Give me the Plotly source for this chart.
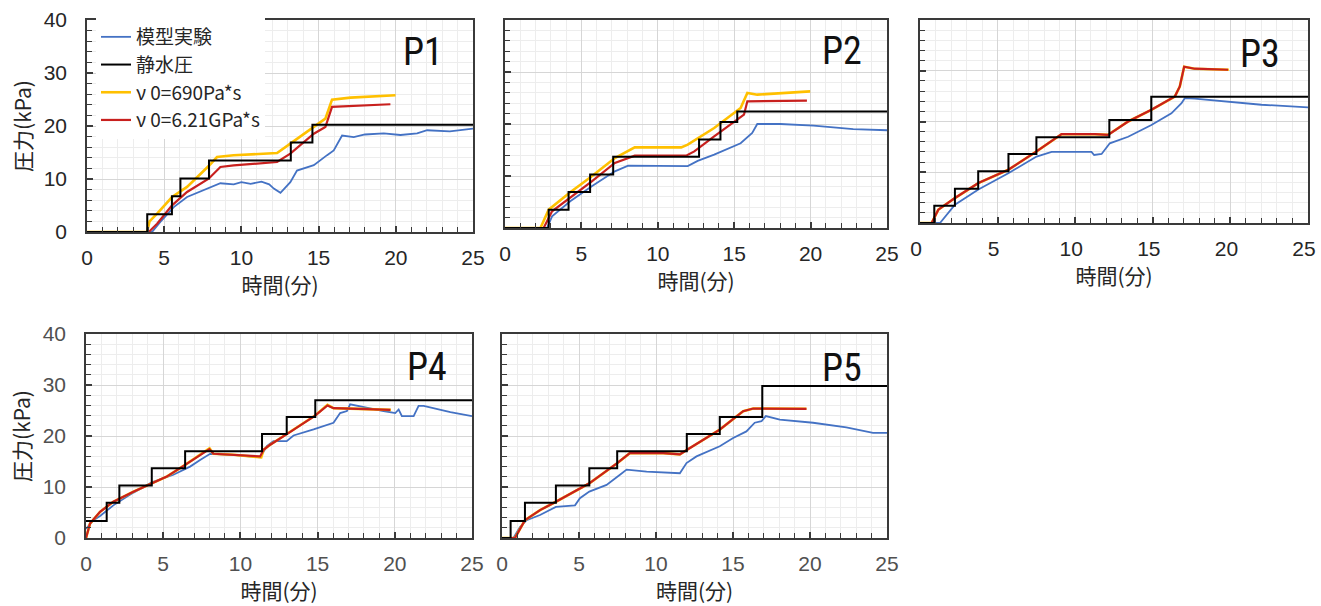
import plotly.graph_objects as go

W, H = 1321, 606

# ---------------- data (time in minutes, pressure in kPa) ----------------
P1_EXP_T = [0, 4.21, 4.75, 5.62, 6.48, 7.78, 8.64, 9.5, 10.0, 10.6, 11.3, 11.8, 12.1, 12.53, 13.17, 13.6, 14.69, 15.55, 15.98, 16.52, 17.28, 18.0, 19.22, 20.3, 21.38, 22.03, 23.5, 25.0]
P1_EXP_P = [0, 0, 1.9, 4.7, 6.6, 8.2, 9.2, 9.0, 9.4, 9.1, 9.5, 9.0, 8.2, 7.4, 9.4, 11.6, 12.6, 14.5, 15.4, 18.2, 17.9, 18.4, 18.6, 18.3, 18.6, 19.2, 19.0, 19.5]
P1_HYD_T = [0, 3.9, 5.5, 6.05, 7.9, 13.2, 14.6, 25]
P1_HYD_P = [0, 3.37, 6.75, 10.1, 13.5, 16.9, 20.25, 20.25]
P1_V690_T = [0, 3.89, 4.05, 4.54, 5.51, 6.48, 7.88, 8.42, 9.5, 12.31, 13.17, 14.69, 15.44, 15.87, 17.06, 19.98]
P1_V690_P = [0, 0, 2.0, 3.46, 6.6, 8.5, 12.45, 14.15, 14.47, 14.9, 16.67, 19.8, 21.4, 24.97, 25.35, 25.8]
P1_V621_T = [0, 4.0, 4.54, 5.51, 6.48, 7.88, 8.64, 9.5, 12.31, 13.17, 14.69, 15.44, 15.87, 19.65]
P1_V621_P = [0, 0, 1.57, 5.03, 7.55, 10.06, 12.26, 12.58, 13.2, 14.78, 18.55, 19.8, 23.6, 24.1]

P2_EXP_T = [0, 2.75, 3.08, 4.27, 5.68, 7.19, 8.06, 9.36, 11.96, 12.61, 13.69, 15.42, 16.18, 16.51, 18.02, 20.19, 22.79, 25.0]
P2_EXP_P = [0, 0, 2.24, 5.13, 8.01, 10.9, 12.0, 12.0, 11.9, 12.9, 14.1, 16.3, 18.3, 20.0, 20.0, 19.7, 19.0, 18.8]
P2_HYD_T = [0, 2.86, 4.16, 5.57, 7.08, 12.7, 14.1, 15.2, 25]
P2_HYD_P = [0, 3.5, 6.9, 10.3, 13.7, 17.0, 20.4, 22.4, 22.4]
P2_V690_T = [0, 2.32, 2.86, 4.27, 5.68, 7.19, 8.49, 11.53, 11.96, 13.69, 15.42, 15.86, 16.51, 19.97]
P2_V690_P = [0, 0, 3.53, 6.86, 9.94, 13.46, 15.51, 15.51, 16.03, 19.23, 23.08, 25.96, 25.64, 26.28]
P2_V621_T = [0, 2.53, 3.08, 4.27, 5.68, 7.19, 8.49, 11.85, 12.39, 13.69, 14.99, 15.64, 15.86, 19.76]
P2_V621_P = [0, 0, 3.21, 5.77, 8.97, 12.5, 13.91, 13.91, 14.74, 17.63, 20.51, 21.79, 24.36, 24.49]

P3_EXP_T = [0, 1.29, 2.25, 3.76, 5.69, 7.51, 8.48, 11.05, 11.22, 11.7, 12.23, 13.41, 14.91, 16.2, 16.85, 17.06, 17.7, 19.85, 22.0, 25.0]
P3_EXP_P = [0, 0, 3.6, 6.6, 9.8, 13.1, 14.0, 14.0, 13.4, 13.6, 15.7, 17.0, 19.3, 21.6, 23.6, 24.6, 24.5, 23.9, 23.3, 22.8]
P3_HYD_T = [0, 0.92, 2.25, 3.75, 5.7, 7.5, 12.2, 14.9, 25]
P3_HYD_P = [0, 3.4, 6.75, 10.2, 13.6, 16.9, 20.3, 24.9, 24.9]
P3_V690_T = [0, 0.75, 1.18, 2.25, 3.76, 5.69, 7.51, 9.12, 11.27, 12.12, 13.41, 14.91, 16.42, 16.74, 17.02, 17.7, 19.9]
P3_V690_P = [0, 0, 2.62, 4.92, 7.87, 10.49, 14.1, 17.5, 17.5, 17.38, 20.0, 22.3, 24.92, 26.9, 30.8, 30.4, 30.2]
P3_V621_T = [0, 0.75, 1.18, 2.25, 3.76, 5.69, 7.51, 9.12, 11.27, 12.12, 13.41, 14.91, 16.42, 16.74, 17.02, 17.7, 19.85]
P3_V621_P = [0, 0, 2.62, 4.92, 7.87, 10.49, 14.1, 17.5, 17.5, 17.38, 20.0, 22.3, 24.92, 26.9, 30.8, 30.4, 30.2]

P4_EXP_T = [0, 0.48, 0.91, 1.77, 3.07, 4.26, 5.66, 6.74, 7.39, 8.04, 9.55, 11.28, 11.71, 12.14, 13.0, 13.44, 14.74, 16.03, 16.46, 16.9, 17.11, 18.19, 19.27, 20.03, 20.25, 20.46, 21.22, 21.54, 21.87, 23.6, 25.0]
P4_EXP_P = [1.8, 3.5, 4.3, 6.4, 8.9, 10.9, 12.4, 14.0, 15.3, 16.5, 16.3, 15.8, 18.0, 19.0, 19.0, 20.1, 21.3, 22.6, 24.5, 24.9, 26.2, 25.5, 24.9, 24.5, 25.2, 23.9, 23.9, 25.9, 25.9, 24.7, 23.9]
P4_HYD_T = [0, 1.34, 2.16, 4.26, 6.42, 11.4, 13.0, 14.85, 25]
P4_HYD_P = [3.35, 6.9, 10.3, 13.7, 17.0, 20.4, 23.75, 27.0, 27.0]
P4_V690_T = [0, 0.26, 0.91, 1.77, 3.07, 4.26, 5.23, 6.42, 7.39, 8.0, 8.25, 9.55, 11.35, 11.5, 11.93, 12.96, 13.87, 14.84, 15.64, 16.03, 18.19, 19.75]
P4_V690_P = [0, 2.83, 5.13, 7.11, 9.08, 10.72, 12.04, 14.34, 16.32, 17.6, 16.51, 16.32, 15.8, 17.3, 18.29, 20.26, 22.04, 24.01, 26.1, 25.46, 25.26, 25.13]
P4_V621_T = [0, 0.26, 0.91, 1.77, 3.07, 4.26, 5.23, 6.42, 7.39, 7.99, 8.25, 9.55, 11.28, 11.5, 11.93, 12.96, 13.87, 14.84, 15.64, 16.03, 18.19, 19.71]
P4_V621_P = [0, 2.83, 5.13, 7.11, 9.08, 10.72, 12.04, 14.34, 16.32, 17.43, 16.51, 16.32, 15.99, 17.3, 18.29, 20.26, 22.04, 24.01, 25.99, 25.46, 25.26, 25.13]

P5_EXP_T = [0, 0.74, 1.17, 1.6, 2.47, 3.5, 4.74, 5.06, 5.67, 6.79, 7.66, 8.09, 9.39, 11.12, 11.55, 11.98, 12.63, 14.14, 15.01, 15.87, 16.41, 16.85, 17.13, 18.04, 20.2, 22.36, 24.09, 25.0]
P5_EXP_P = [0, 0, 2.17, 3.49, 4.5, 6.1, 6.4, 7.8, 9.1, 10.4, 12.4, 13.4, 13.0, 12.7, 12.7, 14.7, 16.0, 18.0, 19.6, 20.9, 22.6, 22.9, 23.9, 23.2, 22.6, 21.7, 20.6, 20.6]
P5_HYD_T = [0, 0.56, 1.49, 3.5, 5.67, 7.48, 12.0, 14.14, 16.9, 25]
P5_HYD_P = [0, 3.35, 6.9, 10.3, 13.7, 17.0, 20.4, 23.75, 29.8, 29.8]
P5_V690_T = [0, 0.84, 1.49, 2.47, 3.5, 5.67, 7.48, 8.3, 10.47, 11.55, 12.02, 14.14, 15.66, 16.31, 19.77]
P5_V690_P = [0, 0, 3.49, 5.46, 7.11, 10.72, 14.67, 16.64, 16.64, 16.4, 17.3, 21.25, 24.87, 25.39, 25.33]
P5_V621_T = [0, 0.84, 1.49, 2.47, 3.5, 5.67, 7.48, 8.3, 10.47, 11.55, 12.02, 14.14, 15.66, 16.31, 19.77]
P5_V621_P = [0, 0, 3.49, 5.46, 7.11, 10.72, 14.67, 16.64, 16.64, 16.4, 17.3, 21.25, 24.87, 25.39, 25.33]

PANEL_NAMES = ["P1", "P2", "P3", "P4", "P5"]
SERIES_NAMES = ["模型実験", "静水圧", "ν 0=690Pa*s", "ν 0=6.21GPa*s"]
X_TITLE = "時間(分)"
Y_TITLE = "圧力(kPa)"

DATA = {
    "P1": [(P1_EXP_T, P1_EXP_P), (P1_HYD_T, P1_HYD_P), (P1_V690_T, P1_V690_P), (P1_V621_T, P1_V621_P)],
    "P2": [(P2_EXP_T, P2_EXP_P), (P2_HYD_T, P2_HYD_P), (P2_V690_T, P2_V690_P), (P2_V621_T, P2_V621_P)],
    "P3": [(P3_EXP_T, P3_EXP_P), (P3_HYD_T, P3_HYD_P), (P3_V690_T, P3_V690_P), (P3_V621_T, P3_V621_P)],
    "P4": [(P4_EXP_T, P4_EXP_P), (P4_HYD_T, P4_HYD_P), (P4_V690_T, P4_V690_P), (P4_V621_T, P4_V621_P)],
    "P5": [(P5_EXP_T, P5_EXP_P), (P5_HYD_T, P5_HYD_P), (P5_V690_T, P5_V690_P), (P5_V621_T, P5_V621_P)],
}

# ---------------- styling / layout ----------------
FONT = "Liberation Sans, Noto Sans CJK JP, sans-serif"
JP_FONT = "Noto Sans CJK JP, sans-serif"
LABEL_FONT = "Liberation Sans Narrow, Roboto Condensed, Liberation Sans, sans-serif"
COLORS = ["#4472C4", "#000000", "#FFC000", "#C8201E"]
WIDTHS = [1.8, 2.0, 2.6, 2.2]
DRAW_ORDER = [0, 2, 3, 1]  # blue, yellow, red, black on top
FRAME = "#3a3a3a"

# pixel boxes: left, right, top, bottom
BOXES = {
    "P1": (87, 473, 20, 232),
    "P2": (505, 887, 20, 228),
    "P3": (920, 1308, 20, 223),
    "P4": (86, 472, 334, 538),
    "P5": (502, 887, 334, 538),
}
LABEL_POS = {"P1": (423, 52), "P2": (842, 51), "P3": (1260, 54), "P4": (427, 367), "P5": (842, 368)}

fig = go.Figure()
layout = dict(
    width=W, height=H, template="none",
    margin=dict(l=0, r=0, t=0, b=0),
    paper_bgcolor="white", plot_bgcolor="white",
    font=dict(family=FONT, size=21, color="#262626"),
    showlegend=True,
    legend=dict(x=96 / W, y=1 - 18 / H, xanchor="left", yanchor="top",
                bgcolor="white", borderwidth=0, tracegroupgap=0,
                font=dict(family=JP_FONT, size=19, color="#262626"),
                itemwidth=30),
    annotations=[],
)

for i, name in enumerate(PANEL_NAMES, start=1):
    l, r, t, b = BOXES[name]
    xs = "" if i == 1 else str(i)
    show_y = name in ("P1", "P4")
    tick_color = "#262626" if i <= 3 else "#505050"
    layout[f"xaxis{xs}"] = dict(
        domain=[l / W, r / W], range=[0, 25], anchor=f"y{xs}",
        tick0=0, dtick=5, ticks="inside", ticklen=6, tickwidth=1.5, tickcolor=FRAME,
        showline=True, linecolor=FRAME, linewidth=1.6, mirror=True,
        showgrid=True, gridcolor="#d6d6d6", gridwidth=1, zeroline=False,
        minor=dict(dtick=1, ticks="inside", ticklen=5, tickwidth=1.2, tickcolor=FRAME,
                   showgrid=True, gridcolor="#ededed", gridwidth=1),
        tickfont=dict(family=FONT, size=21, color=tick_color),
        ticklabelstandoff=6,
        ticklabelshift=-4 if name == "P3" else 0,
        title=dict(text=X_TITLE, font=dict(family=JP_FONT, size=21, color="#262626"), standoff=4),
        automargin=False, fixedrange=True,
    )
    layout[f"yaxis{xs}"] = dict(
        domain=[1 - b / H, 1 - t / H], range=[0, 40], anchor=f"x{xs}",
        tick0=0, dtick=10, ticks="inside", ticklen=6, tickwidth=1.5, tickcolor=FRAME,
        showline=True, linecolor=FRAME, linewidth=1.6, mirror=True,
        showgrid=True, gridcolor="#d6d6d6", gridwidth=1, zeroline=False,
        minor=dict(dtick=2, ticks="inside", ticklen=5, tickwidth=1.2, tickcolor=FRAME,
                   showgrid=True, gridcolor="#ededed", gridwidth=1),
        showticklabels=show_y,
        tickfont=dict(family=FONT, size=21, color=tick_color),
        ticklabelstandoff=14,
        title=dict(text=Y_TITLE if show_y else "", font=dict(family=JP_FONT, size=21, color="#262626"), standoff=6),
        automargin=False, fixedrange=True,
    )
    for k in DRAW_ORDER:
        tx, py = DATA[name][k]
        fig.add_trace(go.Scatter(
            x=tx, y=py, mode="lines", name=SERIES_NAMES[k],
            line=dict(color=COLORS[k], width=WIDTHS[k], shape="hv" if k == 1 else "linear"),
            xaxis=f"x{xs}", yaxis=f"y{xs}",
            showlegend=(i == 1), legendrank=k + 1, hoverinfo="skip",
        ))
    lx, ly = LABEL_POS[name]
    layout["annotations"].append(dict(
        text=name, x=lx / W, y=1 - ly / H, xref="paper", yref="paper",
        xanchor="center", yanchor="middle", showarrow=False,
        font=dict(family=LABEL_FONT, size=38, color="#111111"),
    ))

fig.update_layout(**layout)
fig.write_html(
    "out.html",
    config={"displayModeBar": False},
    post_script="document.body.style.margin='0';document.body.style.overflow='hidden';",
)
